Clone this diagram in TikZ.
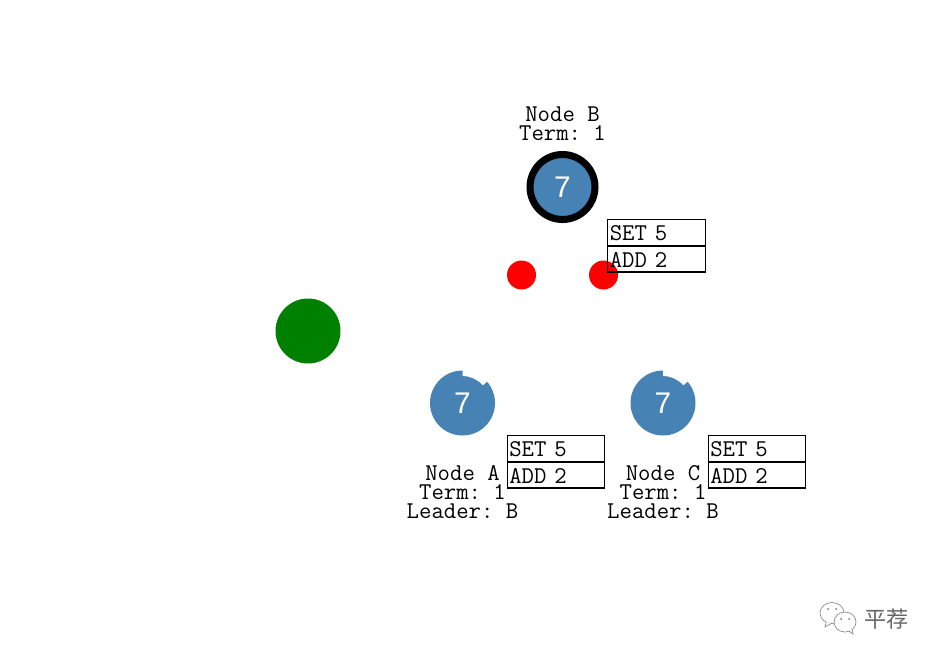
\documentclass[tikz,border=0pt]{standalone}
\usepackage{fontspec}
\setmainfont{Liberation Sans}
\newfontfamily\cjk{Noto Sans CJK SC}
\usepackage{tikz}
\usetikzlibrary{positioning,calc}
\definecolor{server}{HTML}{4682B4}
\definecolor{client}{HTML}{008000}
\definecolor{mark}{HTML}{FF0000}
\frenchspacing
\begin{document}
\begin{tikzpicture}[
  x=0.02cm,y=-0.02cm,
  server/.style={circle,fill=server,minimum size=1.3cm,inner sep=0pt,text=white,font=\fontsize{17}{18}\selectfont},
  caption/.style={align=center,inner sep=0pt,font=\ttfamily\fontsize{13.7}{10.8}\selectfont},
  logcell/.style={draw,line width=0.8pt,minimum width=1.95cm,minimum height=0.52cm,inner sep=1pt,text width=1.87cm,text height=9.2pt,text depth=0pt,align=left,font=\ttfamily\fontsize{13.7}{12}\selectfont},
  timer/.style={fill=white,draw=none},
  chat/.style={draw=black!45,fill=white,line width=0.4pt}
]
\useasboundingbox (0,0) rectangle (939,660);
\node[circle,fill=client,minimum size=1.3cm,inner sep=0pt] (client) at (308,331) {};
\node[server,minimum size=1.3cm,draw=black,line width=4pt] (nodeb) at (562.5,187) {7};
\node[server] (nodea) at (462.5,403) {7};
\node[server] (nodec) at (663,403) {7};

\node[caption] (labelb) at (562.5,123.5) {Node B\\Term: 1};
\node[caption] (labela) at (462.5,492) {Node A\\Term: 1\\Leader: B};
\node[caption] (labelc) at (663,492) {Node C\\Term: 1\\Leader: B};

% red messages on their way
\node[circle,fill=mark,minimum size=0.58cm,inner sep=0pt] (msgl) at (521.5,275) {};
\node[circle,fill=mark,minimum size=0.58cm,inner sep=0pt] (msgr) at (603.5,275) {};

% cut out of the election timers
\fill[timer] ($(nodea.center)+(-90:33.5)$) arc[start angle=-90,end angle=-41,radius=33.5]
  -- ($(nodea.center)+(-41:27)$) arc[start angle=-41,end angle=-90,radius=27] -- cycle;
\fill[timer] ($(nodec.center)+(-90:33.5)$) arc[start angle=-90,end angle=-41,radius=33.5]
  -- ($(nodec.center)+(-41:27)$) arc[start angle=-41,end angle=-90,radius=27] -- cycle;

\node[logcell] (setb) at (656.5,232.3) {SET 5};
\node[logcell,below=-0.4pt of setb] (addb) {ADD 2};
\node[logcell] (seta) at (556,448.3) {SET 5};
\node[logcell,below=-0.4pt of seta] (adda) {ADD 2};
\node[logcell] (setc) at (757,448.3) {SET 5};
\node[logcell,below=-0.4pt of setc] (addc) {ADD 2};

% watermark
\draw[chat] (832,613) ellipse[x radius=12,y radius=10.5];
\draw[chat] (826,622) -- (825,627) -- (832,623);
\draw[chat] (845,622) ellipse[x radius=11,y radius=10];
\draw[chat] (849,631) -- (853,634) -- (852,629);
\fill[black!55] (828,609) circle[radius=1] (836,609) circle[radius=1] (841,619) circle[radius=1] (849,619) circle[radius=1];
\node[inner sep=0pt,text=black!60,font=\cjk\fontsize{12.6}{12.6}\selectfont] (mark) at (886.5,619) {平荐};
\end{tikzpicture}
\end{document}
